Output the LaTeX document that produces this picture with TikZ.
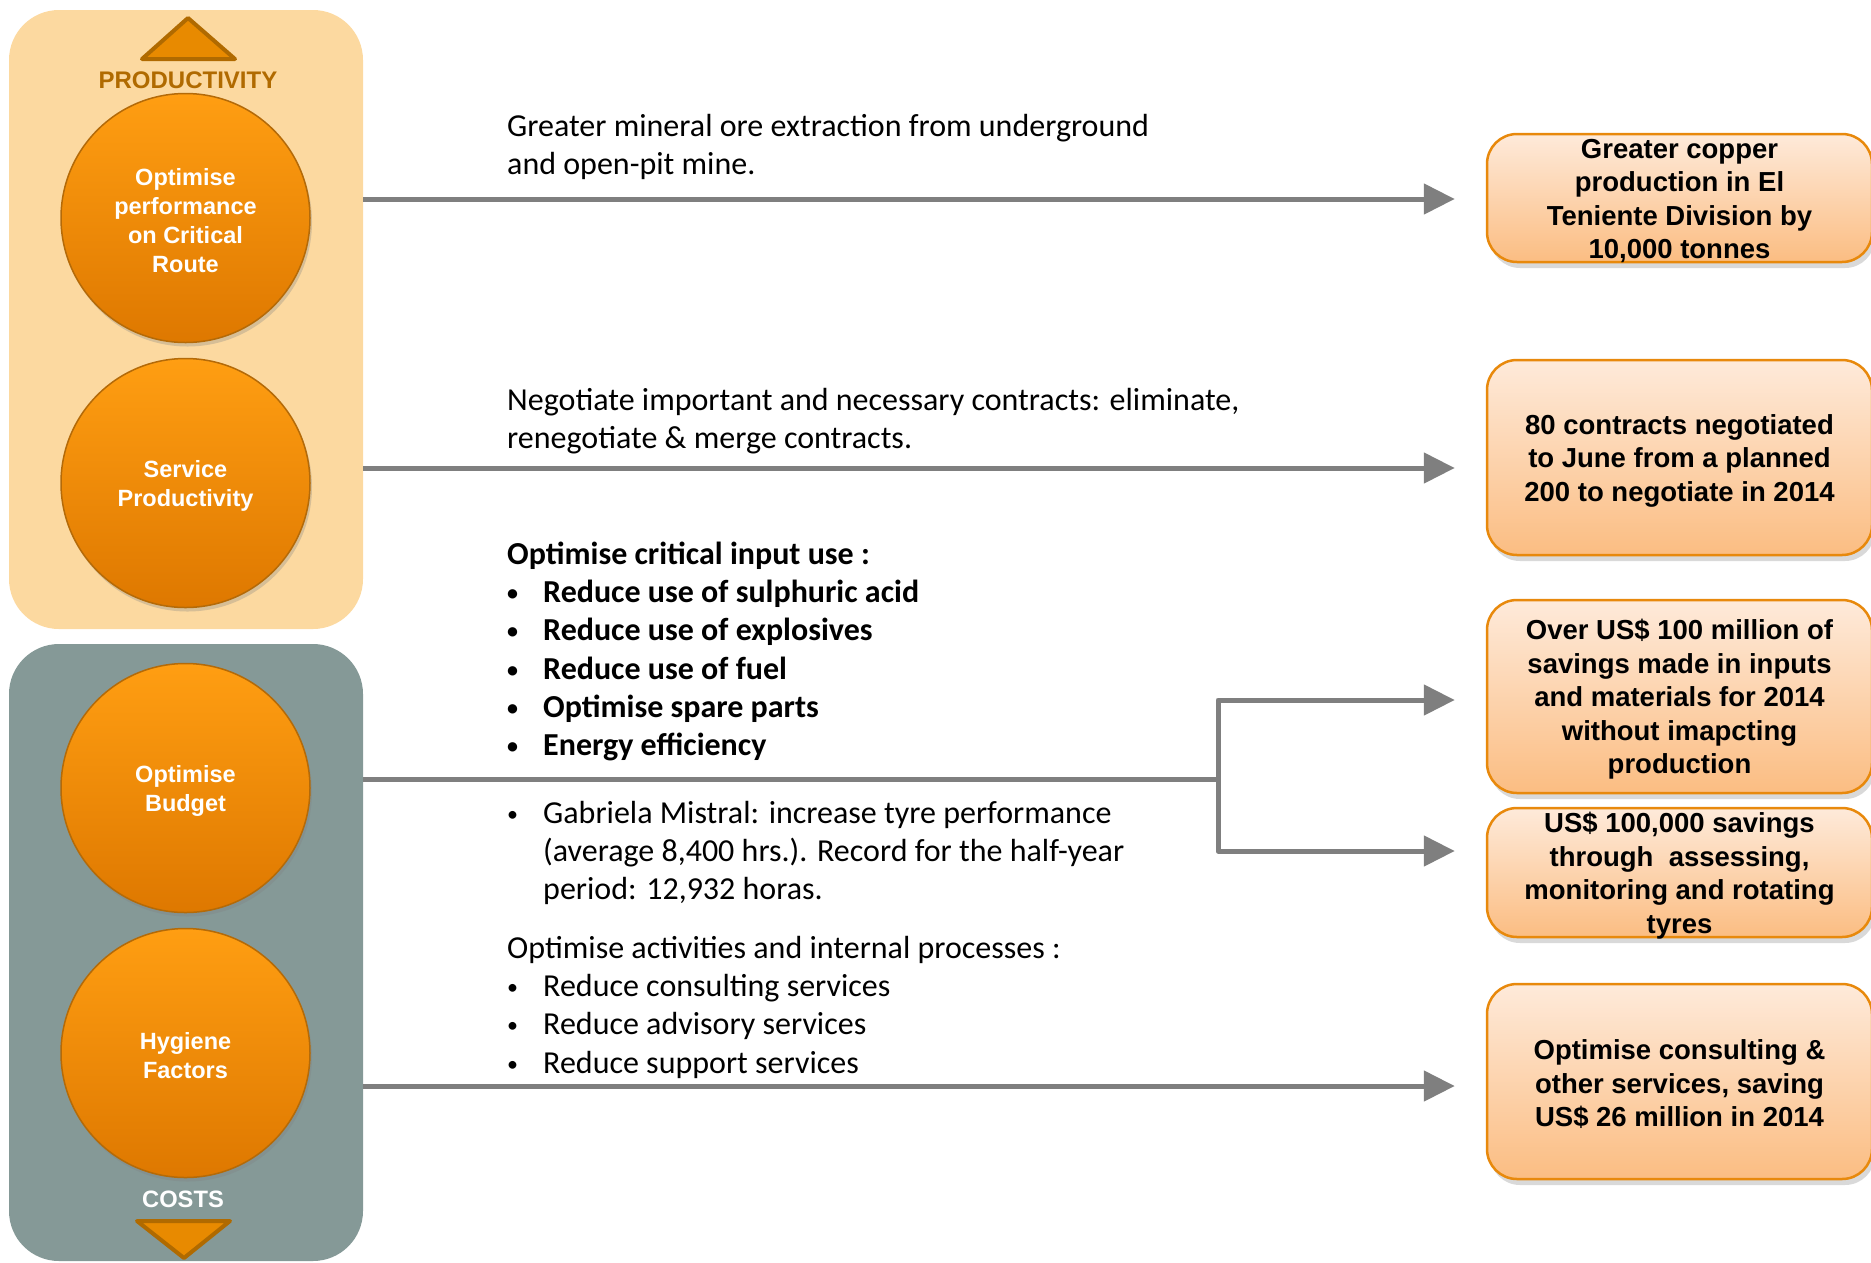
\documentclass[tikz,border=0pt]{standalone}
\usepackage{fontspec}
\setmainfont{Carlito}
\newfontfamily\arialfont{Liberation Sans}
\usetikzlibrary{
        arrows.meta,
        positioning,
        shadows
    }
\definecolor{prodfill}{HTML}{FCD9A0}
\definecolor{costfill}{HTML}{859997}
\definecolor{balltop}{HTML}{FF9E12}
\definecolor{ballbot}{HTML}{DE7800}
\definecolor{balledge}{HTML}{B46A08}
\definecolor{tribody}{HTML}{E88A00}
\definecolor{triedge}{HTML}{B06A00}
\definecolor{boxtop}{HTML}{FEEADA}
\definecolor{boxbot}{HTML}{FBBD82}
\definecolor{boxedge}{HTML}{E8890C}
\definecolor{flowgray}{HTML}{7F7F7F}
\tikzset{>={Triangle[length=31pt,width=30pt]},x=1pt,y=-1pt}
\tikzset{
    panel/.style={rectangle,rounded corners=50pt,minimum width=354pt,inner sep=0pt},
    ball/.style={circle,minimum size=249pt,inner sep=0pt,top color=balltop,bottom color=ballbot,
        draw=balledge,line width=1.5pt,text=white,align=center,
        font=\arialfont\bfseries\fontsize{23.5}{29}\selectfont,
        drop shadow={shadow xshift=2pt,shadow yshift=-4pt,opacity=.3}},
    balltext/.style={text=white,align=center,inner sep=0pt,yshift=-2.5pt,
        font=\arialfont\bfseries\fontsize{23.5}{29}\selectfont},
    outbox/.style={rectangle,rounded corners=30pt,minimum width=385pt,inner sep=0pt,
        top color=boxtop,bottom color=boxbot,draw=boxedge,line width=2.5pt,
        drop shadow={shadow xshift=3pt,shadow yshift=-6pt,opacity=.3}},
    boxtext/.style={align=center,inner sep=0pt,yshift=-3pt,
        font=\arialfont\bfseries\fontsize{27.5}{33.5}\selectfont},
    note/.style={anchor=north west,inner sep=0pt,align=left,font=\fontsize{32}{38.3}\selectfont},
    flow/.style={->,color=flowgray,line width=5pt,shorten >=31pt,line join=round},
    link/.style={color=flowgray,line width=5pt},
    tri/.style={fill=tribody,draw=triedge,line width=4pt,line join=round}
}
\newcommand{\bul}{\makebox[36pt][l]{\raisebox{2pt}{\fontsize{22}{22}\selectfont\textbullet}}}
\newcommand{\topstrut}{\rule{0pt}{24pt}}

\begin{document}
\begin{tikzpicture}
    \useasboundingbox (0,0) rectangle (1871,1262);
    \clip (0,0) rectangle (1871,1262);
    % left panels
    \node[panel,fill=prodfill,minimum height=619pt] (prod) at (186,319.5) {};
    \node[panel,fill=costfill,minimum height=617pt] (cost) at (186,952.5) {};
    \draw[tri] (142,59) -- (188,18) -- (235,59) -- cycle;
    \draw[tri] (137,1221) -- (230,1221) -- (184,1258) -- cycle;
    \node[text=triedge,font=\arialfont\bfseries\fontsize{24}{28}\selectfont] (prodlbl) at (188,80) {PRODUCTIVITY};
    \node[text=white,font=\arialfont\bfseries\fontsize{23.7}{28}\selectfont] (costlbl) at (183,1199) {COSTS};

    \node[ball] (p1) at (185.5,218) {};
    \node[ball] (p2) at (185.5,483) {};
    \node[ball] (c1) at (185.5,788) {};
    \node[ball] (c2) at (185.5,1053) {};
    \node[balltext] (p1t) at (p1.center) {Optimise\\performance\\on Critical\\Route};
    \node[balltext] (p2t) at (p2.center) {Service\\Productivity};
    \node[balltext] (c1t) at (c1.center) {Optimise\\Budget};
    \node[balltext] (c2t) at (c2.center) {Hygiene\\Factors};

    % results
    \node[outbox,minimum height=128pt] (o1) at (1679.5,198) {};
    \node[outbox,minimum height=195pt] (o2) at (1679.5,457.5) {};
    \node[outbox,minimum height=193pt] (o3) at (1679.5,696.5) {};
    \node[outbox,minimum height=129pt] (o4) at (1679.5,872.5) {};
    \node[outbox,minimum height=195pt] (o5) at (1679.5,1081.5) {};
    \node[boxtext] (o1t) at (o1.center) {Greater copper\\production in El\\Teniente Division by\\10,000 tonnes};
    \node[boxtext] (o2t) at (o2.center) {80 contracts negotiated\\to June from a planned\\200 to negotiate in 2014};
    \node[boxtext] (o3t) at (o3.center) {Over US\$ 100 million of\\savings made in inputs\\and materials for 2014\\without imapcting\\production};
    \node[boxtext] (o4t) at (o4.center) {US\$ 100,000 savings\\through\ \ assessing,\\monitoring and rotating\\tyres};
    \node[boxtext] (o5t) at (o5.center) {Optimise consulting \&\\other services, saving\\US\$ 26 million in 2014};

    % actions
    \node[note] (txt1) at (507,112) {\topstrut Greater mineral ore extraction from underground\\and open-pit mine.};
    \node[note] (txt2) at (507,386) {\topstrut Negotiate important and necessary contracts: eliminate,\\renegotiate \& merge contracts.};
    \node[note,font=\bfseries\fontsize{32}{38.3}\selectfont] (txt3) at (507,540) {\topstrut Optimise critical input use :\\
        \bul Reduce use of sulphuric acid\\
        \bul Reduce use of explosives\\
        \bul Reduce use of fuel\\
        \bul Optimise spare parts\\
        \bul Energy efficiency};
    \node[note] (txt4) at (507,799) {\topstrut\bul Gabriela Mistral: increase tyre performance\\
        \hspace*{36pt}(average 8,400 hrs.). Record for the half-year\\
        \hspace*{36pt}period: 12,932 horas.};
    \node[note] (txt5) at (507,934) {\topstrut Optimise activities and internal processes :\\
        \bul Reduce consulting services\\
        \bul Reduce advisory services\\
        \bul Reduce support services};

    % connectors
    \coordinate (s1) at (363,199);
    \coordinate (s2) at (363,468);
    \coordinate (s3) at (363,779);
    \coordinate (s4) at (363,1086);
    \coordinate (fork) at (1218,779);
    \coordinate (b3) at (1218,700);
    \coordinate (b4) at (1218,851);
    \draw[flow] (s1) -- (s1 -| o1.west);
    \draw[flow] (s2) -- (s2 -| o2.west);
    \draw[link] (s3) -- (fork);
    \draw[flow] (fork) |- (b3 -| o3.west);
    \draw[flow] (fork) |- (b4 -| o4.west);
    \draw[flow] (s4) -- (s4 -| o5.west);
\end{tikzpicture}
\end{document}
